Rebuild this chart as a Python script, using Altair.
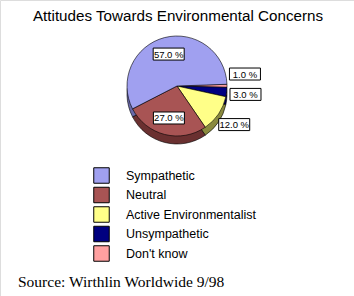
import math
import altair as alt
import pandas as pd

# ---- data ----
categories = ["Sympathetic", "Neutral", "Active Environmentalist", "Unsympathetic", "Don't know"]
values = [57.0, 27.0, 12.0, 3.0, 1.0]
label_texts = ["57.0 %", "27.0 %", "12.0 %", "3.0 %", "1.0 %"]
# clockwise drawing order starting just above 3 o'clock
clockwise_order = ["Don't know", "Unsympathetic", "Active Environmentalist", "Neutral", "Sympathetic"]

top_colors = ["#a0a0f0", "#a85454", "#ffff88", "#000080", "#ffa0a0"]
side_colors = ["#6868a8", "#6a3030", "#8a8a3e", "#000048", "#a06060"]

# ---- layout ----
W, H = 354, 296
CX, CY, R, DEPTH = 177, 86, 50, 8
START_DEG = 88.0

df = pd.DataFrame({"category": categories, "value": values, "label": label_texts})
df["ord"] = [clockwise_order.index(c) for c in categories]
total = df["value"].sum()

# label angles derived from the stacked values
df = df.sort_values("ord").reset_index(drop=True)
df["cum"] = df["value"].cumsum()
df["mid"] = START_DEG + 360.0 * (df["cum"] - df["value"] / 2) / total
df["inside"] = df["value"] >= 20
df["lang"] = df["mid"]
prev = None
for idx, r in df.sort_values("mid", ascending=False).iterrows():
    if r["inside"]:
        continue
    a = r["mid"]
    if prev is not None and a > prev - 17:
        a = prev - 17
    prev = a
    df.loc[idx, "lang"] = a
df["rf"] = df["inside"].map({True: 0.66, False: 1.38})
df["lx"] = df["rf"] * df["lang"].map(lambda d: math.sin(math.radians(d)))
df["ly"] = df["rf"] * df["lang"].map(lambda d: math.cos(math.radians(d)))

a0 = math.radians(START_DEG)
theta_scale = alt.Scale(domain=[0, total], range=[a0, a0 + 2 * math.pi])

base = alt.Chart(df)

side = base.mark_arc(radius=R, stroke="#000000", strokeWidth=0.6).encode(
    theta=alt.Theta("value:Q", stack=True, scale=theta_scale),
    order=alt.Order("ord:Q"),
    color=alt.Color("category:N", scale=alt.Scale(domain=categories, range=side_colors), legend=None),
    x=alt.value(CX),
    y=alt.value(CY + DEPTH),
)

top = base.mark_arc(radius=R, stroke="#000000", strokeWidth=0.6).encode(
    theta=alt.Theta("value:Q", stack=True, scale=theta_scale),
    order=alt.Order("ord:Q"),
    color=alt.Color(
        "category:N",
        scale=alt.Scale(domain=categories, range=top_colors),
        sort=categories,
        legend=alt.Legend(
            title=None,
            orient="none",
            legendX=93,
            legendY=167,
            symbolType="square",
            symbolSize=240,
            symbolStrokeColor="#000000",
            symbolStrokeWidth=1,
            symbolOpacity=1,
            labelFont="Liberation Sans",
            labelFontSize=12.5,
            labelColor="#000000",
            labelOffset=16,
            rowPadding=-1.5,
            padding=0,
        ),
    ),
    x=alt.value(CX),
    y=alt.value(CY),
)

xs = alt.Scale(domain=[-1, 1], range=[CX - R, CX + R])
ys = alt.Scale(domain=[-1, 1], range=[CY + R, CY - R])

boxes = base.mark_rect(width=31, height=12, fill="#ffffff", stroke="#000000", strokeWidth=1).encode(
    x=alt.X("lx:Q", scale=xs, axis=None),
    y=alt.Y("ly:Q", scale=ys, axis=None),
)
texts = base.mark_text(font="Liberation Sans", fontSize=9.5, color="#000000", dy=0.5).encode(
    x=alt.X("lx:Q", scale=xs, axis=None),
    y=alt.Y("ly:Q", scale=ys, axis=None),
    text="label:N",
)

title = alt.Chart(pd.DataFrame({"t": ["Attitudes Towards Environmental Concerns"]})).mark_text(
    font="Liberation Sans", fontSize=15.2, baseline="alphabetic", align="center", color="#000000"
).encode(text="t:N", x=alt.value(W / 2 + 1), y=alt.value(21))

source = alt.Chart(pd.DataFrame({"t": ["Source: Wirthlin Worldwide 9/98"]})).mark_text(
    font="Liberation Serif", fontSize=15.5, baseline="alphabetic", align="left", color="#000000"
).encode(text="t:N", x=alt.value(18), y=alt.value(287))

chart = (
    alt.layer(side, top, boxes, texts, title, source)
    .resolve_scale(color="independent")
    .properties(width=W, height=H, autosize=alt.AutoSizeParams(type="none"), padding=0)
    .configure_view(stroke=None)
    .configure(background="#ffffff")
)

chart.save("out.html", embed_options={"renderer": "svg", "actions": False})
